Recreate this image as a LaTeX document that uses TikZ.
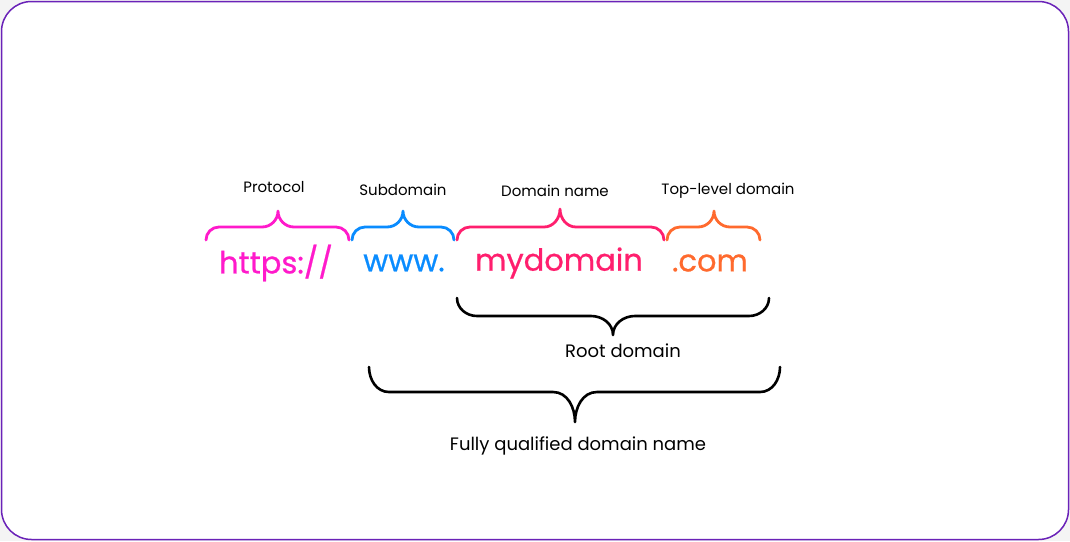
\documentclass[tikz,border=0pt]{standalone}
\usepackage{fontspec}
\setmainfont{Poppins}
\newfontfamily\medfont[FakeBold=0.7]{Poppins}
\definecolor{framec}{HTML}{6A22B8}
\definecolor{protoc}{HTML}{FF1ACB}
\definecolor{subc}{HTML}{0A8CFF}
\definecolor{domc}{HTML}{FF1F6E}
\definecolor{tldc}{HTML}{FF6A2E}
\definecolor{bgc}{HTML}{F4F4F4}
\newcommand{\upbrace}[7]{% color, x0, x1, xt, yend, yline, ytip
  \draw[#1, line width=2.8pt, line cap=round, line join=round]
    (#2,#5) to[out=90,in=180] (#2+13,#6) -- (#4-16,#6) to[out=0,in=-90] (#4,#7)
    to[out=-90,in=180] (#4+16,#6) -- (#3-13,#6) to[out=0,in=90] (#3,#5);}
\newcommand{\downbrace}[6]{% x0, x1, xt, yend, yline, ytip
  \draw[black, line width=2.6pt, line cap=round, line join=round]
    (#1,#4) to[out=-90,in=180] (#1+20,#5) -- (#3-22,#5) to[out=0,in=90] (#3,#6)
    to[out=90,in=180] (#3+22,#5) -- (#2-20,#5) to[out=0,in=-90] (#2,#4);}
\tikzset{
  small/.style={font=\fontsize{15}{17}\selectfont, text=black, inner sep=0pt},
  mid/.style={font=\fontsize{18}{21}\selectfont, text=black, inner sep=0pt},
  big/.style={font=\medfont\fontsize{30.5}{34}\selectfont, inner sep=0pt},
}
\begin{document}
\begin{tikzpicture}[x=1pt,y=-1pt]
\useasboundingbox (0,0) rectangle (1070,541);
\fill[bgc] (0,0) rectangle (1070,541);
\draw[framec, fill=white, line width=1.5pt, rounded corners=30pt] (1.5,1.5) rectangle (1068.5,539.5);
% labels
\node[small] (proto) at (274,187) {Protocol};
\node[small] (sub) at (403,190) {Subdomain};
\node[small] (dom) at (555,191) {Domain name};
\node[small] (tld) at (728,191) {Top-level domain};
% URL parts
\node[big, text=protoc] (u1) at (276,263) {https://};
\node[big, text=subc] (u2) at (404,263) {www.};
\node[big, text=domc] (u3) at (559,263) {mydomain};
\node[big, text=tldc] (u4) at (710,263) {.com};
% braces above
\upbrace{protoc}{206}{349}{278}{240}{227}{211}
\upbrace{subc}{352}{454}{403}{240}{227}{211}
\upbrace{domc}{457}{664}{560}{240}{227}{209}
\upbrace{tldc}{667}{760}{714}{240}{227}{211}
% braces below
\downbrace{457}{769}{613}{298}{316}{335}
\downbrace{369}{780}{575}{367}{392}{422}
\node[mid] (root) at (623,351) {Root domain};
\node[mid] (fqdn) at (578,446) {Fully qualified domain name};
\end{tikzpicture}
\end{document}
